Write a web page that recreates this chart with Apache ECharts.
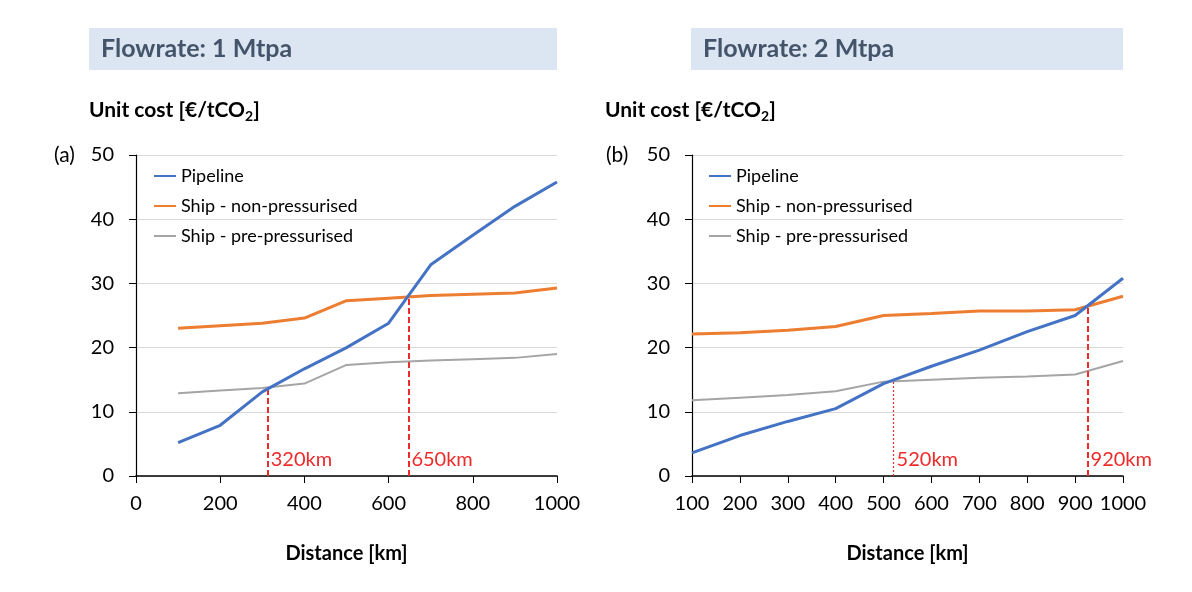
<!DOCTYPE html>
<html>
<head>
<meta charset="utf-8">
<script src="https://cdn.jsdelivr.net/npm/echarts@6/dist/echarts.min.js"></script>
<style>
  html, body { margin: 0; padding: 0; background: #fff; }
  #chart { width: 1192px; height: 592px; }
</style>
</head>
<body>
<div id="chart"></div>
<script>
// distances [km]
const distance = [100, 200, 300, 400, 500, 600, 700, 800, 900, 1000]

// (a) flowrate 1 Mtpa
const pipeA = [5.2, 7.9, 13.1, 16.7, 20.0, 23.8, 32.9, 37.5, 42.0, 45.8]
const shipNonA = [23.0, 23.4, 23.8, 24.6, 27.3, 27.7, 28.1, 28.3, 28.5, 29.3]
const shipPreA = [12.9, 13.3, 13.7, 14.4, 17.3, 17.7, 18.0, 18.2, 18.4, 19.0]

// (b) flowrate 2 Mtpa
const pipeB = [3.6, 6.3, 8.5, 10.5, 14.4, 17.1, 19.6, 22.5, 25.0, 30.8]
const shipNonB = [22.1, 22.3, 22.7, 23.3, 25.0, 25.3, 25.7, 25.7, 25.9, 28.0]
const shipPreB = [11.8, 12.2, 12.6, 13.2, 14.7, 15.0, 15.3, 15.5, 15.8, 17.9]

// break-even points: x, top of the marker line, label
const crossA = [[313, 13.7, '320km'], [647, 27.9, '650km']]
const crossB = [[521, 14.9, '520km'], [926, 26.4, '920km']]

const seriesNames = ['Pipeline', 'Ship - non-pressurised', 'Ship - pre-pressurised']
const colors = ['#4472c4', '#ed7d31', '#a5a5a5']
const widths = [3, 3, 2]
const RED = '#ee2b2b'
const FONT = 'Lato'

const pairs = arr => distance.map((d, i) => [d, arr[i]])

function crossSeries(cross, idx, thin) {
  return {
    type: 'line', xAxisIndex: idx, yAxisIndex: idx, data: [], silent: true,
    markLine: {
      symbol: 'none', silent: true, label: { show: false },
      lineStyle: { color: RED, type: [6, 3], width: 2 },
      data: cross.map((c, j) => {
        const ls = thin && j === 0 ? { color: RED, type: [2, 2], width: 1.2 } : { color: RED, type: [6, 3], width: 2 }
        return [{ coord: [c[0], 0], lineStyle: ls }, { coord: [c[0], c[1]], lineStyle: ls }]
      })
    },
    markPoint: {
      symbol: 'circle', symbolSize: 0, silent: true,
      data: cross.map(c => ({
        coord: [c[0], 2.5],
        label: { show: true, position: 'right', distance: 3, formatter: c[2], color: RED, fontSize: 20, fontFamily: FONT }
      }))
    }
  }
}

function lineSeries(arrs, idx) {
  return arrs.map((arr, i) => ({
    name: seriesNames[i], type: 'line', xAxisIndex: idx, yAxisIndex: idx,
    data: pairs(arr), symbol: 'none', color: colors[i],
    lineStyle: { width: widths[i], color: colors[i] }, z: 3 - i + 2
  }))
}

const yAxisCommon = {
  type: 'value', min: 0, max: 50, interval: 10,
  axisLine: { show: true, lineStyle: { color: '#000', width: 1.2 } },
  axisTick: { show: true, length: 7, lineStyle: { color: '#000' } },
  axisLabel: { color: '#000', fontSize: 20, fontFamily: FONT, margin: 22 },
  splitLine: { lineStyle: { color: '#d9d9d9', width: 1.2 } }
}
const xAxisCommon = {
  type: 'value', max: 1000,
  name: 'Distance [km]', nameLocation: 'middle', nameGap: 68,
  nameTextStyle: { color: '#000', fontSize: 20, fontWeight: 'bold', fontFamily: FONT },
  axisLine: { show: true, onZero: false, lineStyle: { color: '#000', width: 1.5 } },
  axisTick: { show: true, length: 7, lineStyle: { color: '#000' } },
  axisLabel: { color: '#000', fontSize: 20, fontFamily: FONT, margin: 18, formatter: v => String(v) },
  splitLine: { show: false }
}
const legendCommon = {
  orient: 'vertical', itemWidth: 22, itemHeight: 14, itemGap: 12,
  itemStyle: { opacity: 0 },
  textStyle: { color: '#000', fontSize: 18, fontFamily: FONT },
  data: seriesNames
}

function titleBox(x, w, txt) {
  return [
    { type: 'rect', shape: { x: x, y: 28, width: w, height: 42 }, style: { fill: '#dce6f2' } },
    { type: 'text', x: x + 12, y: 49, style: { text: txt, fill: '#44546a', font: 'bold 25px ' + FONT, textVerticalAlign: 'middle' } }
  ]
}
function unitText(x) {
  return {
    type: 'text', x: x, y: 97,
    style: {
      text: '{b|Unit cost [€/tCO}{s|2}{b|]}',
      rich: {
        b: { fontSize: 21, fontWeight: 'bold', fontFamily: FONT, fill: '#000', color: '#000' },
        s: { fontSize: 14, fontWeight: 'bold', fontFamily: FONT, fill: '#000', color: '#000', padding: [12, 0, 0, 0] }
      }
    }
  }
}

const chart = echarts.init(document.getElementById('chart'))
chart.setOption({
  animation: false,
  backgroundColor: '#fff',
  grid: [
    { left: 136, right: 635, top: 155, bottom: 116 },
    { left: 692, right: 69, top: 155, bottom: 116 }
  ],
  xAxis: [
    Object.assign({}, xAxisCommon, { gridIndex: 0, min: 0, interval: 200 }),
    Object.assign({}, xAxisCommon, { gridIndex: 1, min: 100, interval: 100 })
  ],
  yAxis: [
    Object.assign({}, yAxisCommon, { gridIndex: 0 }),
    Object.assign({}, yAxisCommon, { gridIndex: 1 })
  ],
  legend: [
    Object.assign({}, legendCommon, { left: 148, top: 162 }),
    Object.assign({}, legendCommon, { left: 703, top: 162 })
  ],
  graphic: [
    ...titleBox(89, 468, 'Flowrate: 1 Mtpa'),
    ...titleBox(691, 432, 'Flowrate: 2 Mtpa'),
    unitText(89),
    unitText(605),
    { type: 'text', x: 54, y: 155, style: { text: '(a)', fill: '#000', font: '21px ' + FONT, textVerticalAlign: 'middle' } },
    { type: 'text', x: 606, y: 155, style: { text: '(b)', fill: '#000', font: '21px ' + FONT, textVerticalAlign: 'middle' } }
  ],
  series: [
    ...lineSeries([pipeA, shipNonA, shipPreA], 0),
    ...lineSeries([pipeB, shipNonB, shipPreB], 1),
    crossSeries(crossA, 0, false),
    crossSeries(crossB, 1, true)
  ]
})
</script>
</body>
</html>
